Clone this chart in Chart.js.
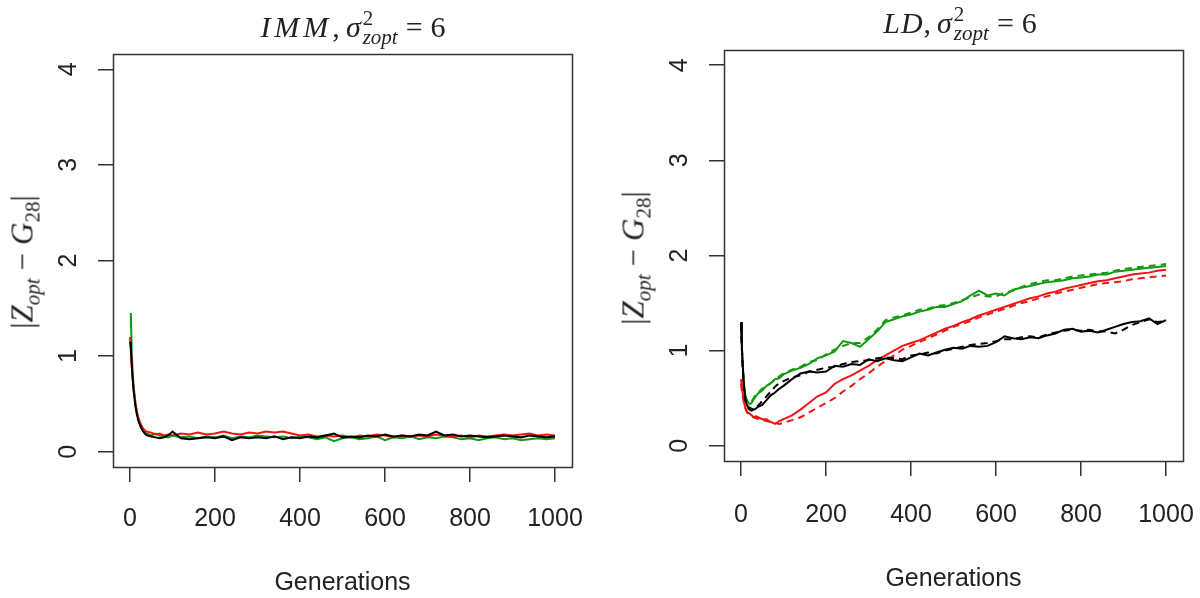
<!DOCTYPE html>
<html><head><meta charset="utf-8">
<script src="https://cdn.jsdelivr.net/npm/chart.js@4.4.1/dist/chart.umd.min.js"></script>
<style>
html,body{margin:0;padding:0;background:#fff;}
#wrap{position:relative;width:1200px;height:598px;overflow:hidden;background:#fff;}
canvas{position:absolute;top:0;}
.lbl{position:absolute;font-family:'Liberation Serif',serif;font-size:30px;color:#222;white-space:nowrap;}
.ttl{transform:translate(-50%,-50%);}
.rot{transform:translate(-50%,-50%) rotate(-90deg);font-size:31px;}
.it{font-style:italic}
.ss{display:inline-flex;flex-direction:column;font-size:21px;line-height:19px;vertical-align:12px;margin-left:2px;}
.sb{font-size:21px;vertical-align:-7px;}
.op{margin:0 8px;}
</style>
</head><body>
<div id="wrap">
<canvas id="c1" width="600" height="598" style="left:0"></canvas>
<canvas id="c2" width="600" height="598" style="left:600px"></canvas>
<div class="lbl ttl" style="left:353px;top:28px"><span class="it" style="letter-spacing:4px">IMM</span>,&thinsp;<span class="it">σ</span><span class="ss"><span>2</span><span class="it">zopt</span></span><span class="op">=</span>6</div>
<div class="lbl ttl" style="left:960px;top:24px"><span class="it" style="letter-spacing:1px">LD</span>,&thinsp;<span class="it">σ</span><span class="ss"><span>2</span><span class="it">zopt</span></span><span class="op">=</span>6</div>
<div class="lbl rot" style="left:25px;top:262px">|<span class="it">Z</span><span class="sb it">opt</span><span class="op">−</span><span class="it">G</span><span class="sb">28</span>|</div>
<div class="lbl rot" style="left:636px;top:258px">|<span class="it">Z</span><span class="sb it">opt</span><span class="op">−</span><span class="it">G</span><span class="sb">28</span>|</div>
</div>
<script>
const GENERATIONS = [0,2,4,6,8,10,13,16,20,25,30,35,40,50,60,70,80,90,100,
  120,140,160,180,200,220,240,260,280,300,320,340,360,380,400,
  420,440,460,480,500,520,540,560,580,600,620,640,660,680,700,
  720,740,760,780,800,820,840,860,880,900,920,940,960,980,1000];
const X_TICKS = [0,200,400,600,800,1000];
const Y_TICKS = [0,1,2,3,4];

// IMM panel
const IMM_RED = [1.20,1.05,0.90,0.78,0.68,0.60,0.50,0.42,0.35,0.29,0.25,0.22,0.21,0.20,0.18,0.19,0.17,0.18,0.17,
  0.19,0.18,0.20,0.18,0.19,0.21,0.19,0.18,0.20,0.19,0.21,0.20,0.21,0.19,0.17,
  0.18,0.16,0.17,0.16,0.17,0.15,0.17,0.16,0.18,0.17,0.15,0.17,0.16,0.17,0.16,
  0.18,0.17,0.16,0.17,0.15,0.17,0.16,0.17,0.18,0.17,0.18,0.19,0.17,0.18,0.17];
const IMM_GREEN = [1.30,1.45,1.05,0.85,0.72,0.62,0.50,0.42,0.34,0.28,0.23,0.20,0.19,0.17,0.19,0.17,0.16,0.15,0.17,
  0.15,0.16,0.14,0.16,0.15,0.17,0.14,0.16,0.15,0.17,0.16,0.15,0.16,0.14,0.16,
  0.15,0.13,0.15,0.11,0.14,0.15,0.13,0.14,0.16,0.12,0.15,0.14,0.16,0.13,0.15,
  0.14,0.16,0.15,0.13,0.14,0.12,0.14,0.15,0.13,0.14,0.12,0.13,0.14,0.13,0.14];
const IMM_BLACK = [1.15,1.10,0.92,0.78,0.66,0.58,0.47,0.39,0.32,0.26,0.22,0.19,0.17,0.16,0.15,0.14,0.15,0.17,0.21,
  0.14,0.13,0.14,0.15,0.14,0.16,0.12,0.15,0.14,0.15,0.14,0.16,0.13,0.15,0.14,
  0.16,0.15,0.17,0.19,0.15,0.16,0.15,0.17,0.16,0.18,0.16,0.17,0.16,0.18,0.17,
  0.21,0.17,0.18,0.16,0.17,0.16,0.15,0.16,0.17,0.16,0.15,0.17,0.16,0.15,0.16];

// LD panel
const LD_GREEN = [1.30,1.05,0.85,0.70,0.60,0.54,0.49,0.46,0.44,0.45,0.49,0.52,0.55,0.58,0.63,0.66,0.70,0.71,0.75,
  0.79,0.82,0.86,0.92,0.95,0.99,1.10,1.08,1.04,1.12,1.20,1.30,1.33,1.36,1.38,
  1.41,1.43,1.46,1.46,1.49,1.52,1.58,1.63,1.58,1.60,1.58,1.64,1.66,1.68,1.70,
  1.72,1.73,1.74,1.76,1.77,1.78,1.80,1.80,1.83,1.84,1.85,1.86,1.87,1.88,1.89];
const LD_GREEN_DASH = [1.28,1.02,0.83,0.68,0.58,0.52,0.48,0.45,0.45,0.47,0.50,0.54,0.56,0.60,0.62,0.66,0.69,0.73,0.76,
  0.80,0.83,0.88,0.90,0.96,1.01,1.05,1.08,1.08,1.14,1.22,1.32,1.35,1.37,1.40,
  1.43,1.44,1.47,1.48,1.50,1.53,1.56,1.59,1.57,1.57,1.61,1.63,1.67,1.70,1.72,
  1.74,1.74,1.76,1.78,1.79,1.80,1.81,1.82,1.84,1.86,1.87,1.88,1.89,1.90,1.91];
const LD_BLACK = [1.30,1.05,0.85,0.70,0.58,0.50,0.44,0.41,0.40,0.39,0.38,0.39,0.41,0.43,0.48,0.53,0.56,0.60,0.63,
  0.70,0.76,0.78,0.77,0.78,0.84,0.83,0.86,0.85,0.91,0.89,0.92,0.90,0.89,0.93,
  0.97,0.95,0.98,1.01,1.03,1.02,1.05,1.04,1.05,1.09,1.15,1.13,1.12,1.14,1.13,
  1.16,1.18,1.22,1.23,1.20,1.21,1.19,1.22,1.25,1.28,1.30,1.31,1.34,1.28,1.32];
const LD_BLACK_DASH = [1.28,1.03,0.83,0.68,0.56,0.49,0.43,0.40,0.38,0.37,0.38,0.40,0.42,0.47,0.52,0.57,0.62,0.66,0.68,
  0.72,0.74,0.78,0.80,0.82,0.83,0.86,0.88,0.89,0.90,0.92,0.93,0.92,0.91,0.95,
  0.96,0.98,0.97,1.00,1.02,1.04,1.06,1.07,1.08,1.10,1.12,1.12,1.14,1.15,1.14,
  1.17,1.19,1.21,1.22,1.21,1.22,1.20,1.20,1.18,1.22,1.27,1.30,1.33,1.30,1.31];
const LD_RED = [0.70,0.62,0.55,0.49,0.44,0.40,0.37,0.35,0.34,0.32,0.30,0.31,0.30,0.28,0.28,0.25,0.23,0.26,0.28,
  0.32,0.38,0.45,0.52,0.56,0.65,0.70,0.74,0.79,0.84,0.90,0.95,1.00,1.05,1.08,
  1.11,1.15,1.19,1.23,1.26,1.30,1.33,1.37,1.40,1.43,1.46,1.49,1.52,1.55,1.57,
  1.60,1.62,1.65,1.67,1.69,1.71,1.73,1.74,1.76,1.78,1.80,1.81,1.82,1.84,1.85];
const LD_RED_DASH = [0.65,0.58,0.52,0.47,0.43,0.40,0.36,0.34,0.32,0.31,0.30,0.29,0.28,0.27,0.26,0.25,0.24,0.23,0.24,
  0.27,0.30,0.35,0.40,0.45,0.50,0.57,0.63,0.70,0.76,0.83,0.89,0.95,1.01,1.05,
  1.09,1.13,1.17,1.21,1.25,1.28,1.31,1.35,1.38,1.41,1.44,1.47,1.50,1.52,1.55,
  1.57,1.60,1.62,1.64,1.66,1.68,1.70,1.71,1.72,1.73,1.75,1.76,1.77,1.78,1.79];

const RED = '#f01414', GREEN = '#139a13', BLACK = '#000000';

function pts(vals){ return vals.map((v,i)=>({x:GENERATIONS[i], y:v})); }
function ds(label, vals, color, dash){
  return {label, data:pts(vals), borderColor:color, borderWidth:2, borderDash:dash?[7,5]:[], pointRadius:0, fill:false, tension:0};
}

const boxPlugin = {
  id:'rbox',
  afterDatasetsDraw(chart){
    const a = chart.chartArea, c = chart.ctx;
    c.save(); c.strokeStyle='#333'; c.lineWidth=1.5;
    c.strokeRect(Math.round(a.left)+0.5, Math.round(a.top)+0.5, Math.round(a.right-a.left), Math.round(a.bottom-a.top));
    c.restore();
  }
};

function makeChart(id, datasets, g){
  const tickFont = {family:'Liberation Sans', size:25};
  return new Chart(document.getElementById(id), {
    type:'line',
    data:{datasets},
    options:{
      responsive:false, animation:false, devicePixelRatio:1,
      layout:{padding:{top:g.top, right:g.right, left:0, bottom:0}},
      plugins:{legend:{display:false}, tooltip:{enabled:false}, title:{display:false}},
      scales:{
        x:{type:'linear', min:-40, max:1040,
          afterBuildTicks:s=>{s.ticks = X_TICKS.map(v=>({value:v}));},
          afterFit:s=>{s.height = g.xh; s.paddingLeft = 0; s.paddingRight = 0;},
          grid:{display:true, drawOnChartArea:false, drawTicks:true, tickLength:15, color:'#333', lineWidth:1.5},
          border:{display:false},
          ticks:{font:tickFont, color:'#222', padding:g.xpad, maxRotation:0, minRotation:0, autoSkip:false, callback:v=>String(v)},
          title:{display:true, text:'Generations', font:tickFont, color:'#222', padding:{top:0, bottom:g.tpad}}
        },
        y:{type:'linear', min:-0.16, max:4.16,
          afterBuildTicks:s=>{s.ticks = Y_TICKS.map(v=>({value:v}));},
          afterFit:s=>{s.width = g.yw; s.paddingTop = 0; s.paddingBottom = 0;},
          grid:{display:true, drawOnChartArea:false, drawTicks:true, tickLength:15, color:'#333', lineWidth:1.5},
          border:{display:false},
          ticks:{font:tickFont, color:'#222', padding:22, minRotation:90, maxRotation:90, crossAlign:'center', autoSkip:false, callback:v=>String(v)}
        }
      }
    },
    plugins:[boxPlugin]
  });
}

makeChart('c1', [
  ds('IMM black', IMM_BLACK, BLACK),
  ds('IMM red', IMM_RED, RED),
  ds('IMM green', IMM_GREEN, GREEN)
], {top:54, right:28, yw:113, xh:131, xpad:22, tpad:0});

makeChart('c2', [
  ds('LD black', LD_BLACK, BLACK),
  ds('LD black dashed', LD_BLACK_DASH, BLACK, true),
  ds('LD red', LD_RED, RED),
  ds('LD red dashed', LD_RED_DASH, RED, true),
  ds('LD green', LD_GREEN, GREEN),
  ds('LD green dashed', LD_GREEN_DASH, GREEN, true)
], {top:50, right:17, yw:124, xh:137, xpad:24, tpad:4});
</script>
</body></html>
